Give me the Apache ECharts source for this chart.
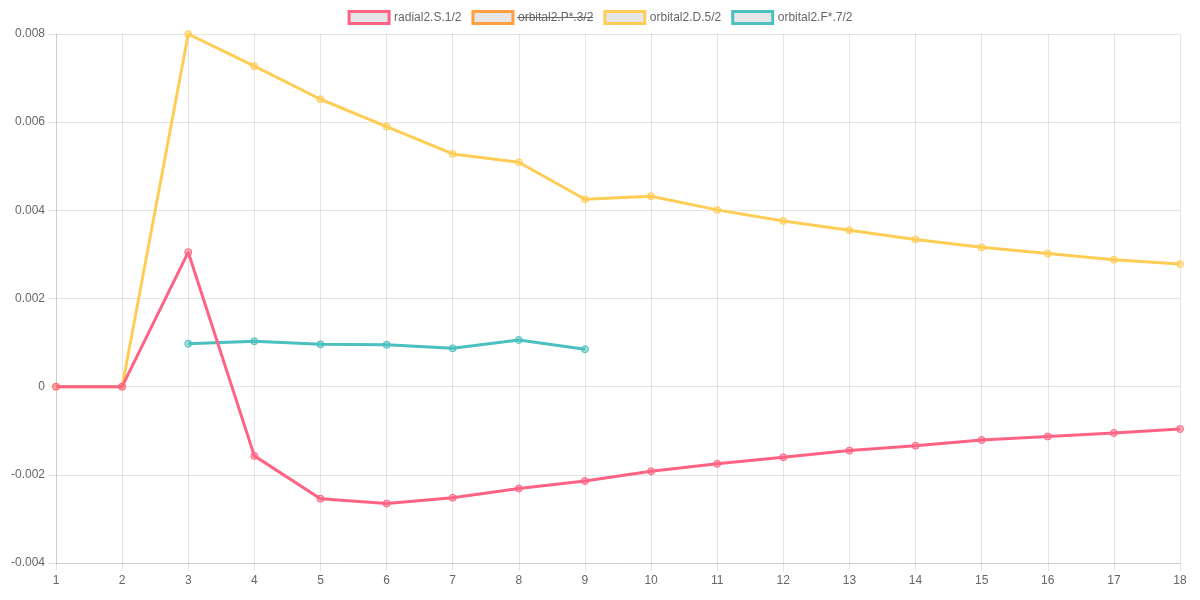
<!DOCTYPE html>
<html>
<head>
<meta charset="utf-8">
<script src="https://cdn.jsdelivr.net/npm/echarts@6/dist/echarts.min.js"></script>
<style>
  html, body { margin: 0; padding: 0; background: #fff; }
  #chart { width: 1200px; height: 600px; }
</style>
</head>
<body>
<div id="chart"></div>
<script>
// x categories
const steps = ["1", "2", "3", "4", "5", "6", "7", "8", "9", "10", "11", "12", "13", "14", "15", "16", "17", "18"];

// series values
const radialS12 = [0, 0, 0.00305, -0.00157, -0.00254, -0.00265, -0.00252, -0.00231, -0.00214, -0.00192,
  -0.00175, -0.0016, -0.00145, -0.00134, -0.00121, -0.00113, -0.00105, -0.00096];
const orbitalP32 = []; // hidden (struck through in the legend), nothing drawn
const orbitalD52 = [0, 0, 0.008, 0.00727, 0.00652, 0.0059, 0.00528, 0.00509, 0.00425, 0.00432,
  0.00401, 0.00376, 0.00355, 0.00334, 0.00316, 0.00302, 0.00288, 0.00278];
const orbitalF72 = [null, null, 0.000975, 0.00103, 0.00096, 0.00095, 0.00087, 0.00106, 0.00085];

const seriesNames = ["radial2.S.1/2", "orbital2.P*.3/2", "orbital2.D.5/2", "orbital2.F*.7/2"];
const seriesColors = ["rgb(255,99,132)", "rgb(255,159,64)", "rgb(255,205,86)", "rgb(75,192,192)"];
const seriesFills = ["rgba(255,99,132,0.5)", "rgba(255,159,64,0.5)", "rgba(255,205,86,0.5)", "rgba(75,192,192,0.5)"];
const seriesData = [radialS12, orbitalP32, orbitalD52, orbitalF72];

const font = "'Liberation Sans', Helvetica, Arial, sans-serif";
const gridColor = "rgba(0,0,0,0.1)";

const chart = echarts.init(document.getElementById("chart"));

const series = seriesNames.map((name, i) => ({
  name: name,
  type: "line",
  data: seriesData[i],
  z: 10 - i,
  symbol: "circle",
  symbolSize: 7,
  showAllSymbol: true,
  connectNulls: false,
  lineStyle: {color: seriesColors[i], width: 3},
  itemStyle: {color: seriesFills[i], borderColor: seriesColors[i], borderWidth: 1},
  emphasis: {disabled: true},
}));

const option = {
  animation: false,
  textStyle: {fontFamily: font},
  legend: {
    top: 5,
    left: "center",
    itemWidth: 40,
    itemHeight: 12,
    itemGap: 10,
    icon: "rect",
    selectedMode: false,
    textStyle: {color: "#666", fontSize: 12, fontFamily: font},
    data: seriesNames.map((n, i) => ({
      name: n,
      itemStyle: {color: "#e6e6e6", borderColor: seriesColors[i], borderWidth: 3},
    })),
  },
  // strike line over the hidden series' legend label
  graphic: [{
    type: "line",
    shape: {x1: 517, y1: 17.5, x2: 593, y2: 17.5},
    style: {stroke: "#666", lineWidth: 1},
    z: 100,
  }],
  grid: {left: 56, right: 20, top: 34, bottom: 37, containLabel: false},
  xAxis: {
    type: "category",
    data: steps,
    boundaryGap: false,
    axisLine: {onZero: false, lineStyle: {color: gridColor}},
    axisTick: {show: true, length: 8, lineStyle: {color: gridColor}},
    axisLabel: {color: "#666", fontSize: 12, margin: 12},
    splitLine: {show: true, lineStyle: {color: gridColor}},
  },
  yAxis: {
    type: "value",
    min: -0.004,
    max: 0.008,
    interval: 0.002,
    axisLine: {show: true, lineStyle: {color: gridColor}},
    axisTick: {show: true, length: 8, lineStyle: {color: gridColor}},
    axisLabel: {color: "#666", fontSize: 12, margin: 11},
    splitLine: {show: true, lineStyle: {color: gridColor}},
  },
  series: series,
};

chart.setOption(option);
</script>
</body>
</html>
